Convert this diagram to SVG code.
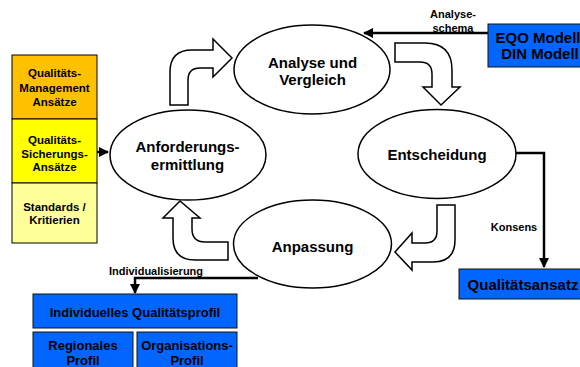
<svg xmlns="http://www.w3.org/2000/svg" width="580" height="367" viewBox="0 0 580 367">
<defs>
<style>
text{font-family:"Liberation Sans",Arial,sans-serif;font-weight:bold;fill:#000;text-anchor:middle}
.big{font-size:15px}
.mid{font-size:13px}
.sm{font-size:11.5px}
.lbl{font-size:11px}
.ell{fill:#fff;stroke:#000;stroke-width:1.5}
.blk{fill:#fff;stroke:#000;stroke-width:1.5;stroke-linejoin:miter}
.blue{fill:#0066ff;stroke:#111;stroke-width:1}
.stk{stroke:#000;stroke-width:1}
.con{fill:none;stroke:#000;stroke-width:2.5}
</style>
<marker id="ah" viewBox="0 0 10 10" refX="9" refY="5" markerWidth="4" markerHeight="4" orient="auto" markerUnits="strokeWidth">
<path d="M0,0 L10,5 L0,10 Z" fill="#000"/>
</marker>
</defs>
<rect width="580" height="367" fill="#fff"/>

<g id="connectors">
<path class="con" d="M488,33 L364,33" marker-end="url(#ah)"/>
<path class="con" d="M516,153 L544,153 L544,267" marker-end="url(#ah)"/>
<path class="con" d="M258,278 L135,278 L135,293" marker-end="url(#ah)"/>
<path class="con" d="M97,152 L108,152" marker-end="url(#ah)"/>
<text class="lbl" x="453" y="18">Analyse-</text>
<text class="lbl" x="453" y="32">schema</text>
<text class="lbl" x="514" y="231">Konsens</text>
<text class="lbl" x="156" y="275">Individualisierung</text>
</g>

<g id="cycle-arrows">
<path class="blk" d="M170,105 L170,72 Q170,50 192,50 L213,50 L213,39 L232,58 L213,77 L213,68 L200,68 Q188,68 188,80 L188,105 Z"/>
<path class="blk" d="M395,43 L425,43 Q452,43 452,70 L452,87 L460,87 L441,105 L423,87 L432,87 L432,74 Q432,62 420,62 L395,62 Z"/>
<path class="blk" d="M437,205 L455,205 L455,240 Q455,262 433,262 L412,262 L412,270 L395,252 L412,233 L412,243 L425,243 Q437,243 437,231 Z"/>
<path class="blk" d="M228,242 L205,242 Q192,242 192,229 L192,218 L200,218 L180,201 L163,218 L173,218 L173,238 Q173,260 195,260 L228,260 Z"/>
</g>

<g id="analyse">
<ellipse class="ell" cx="312" cy="69.5" rx="78" ry="44.5"/>
<text class="big" x="312.5" y="67.5">Analyse und</text>
<text class="big" x="312.5" y="85">Vergleich</text>
</g>

<g id="entscheidung">
<ellipse class="ell" cx="437" cy="154" rx="79" ry="44.5"/>
<text class="big" x="437" y="160">Entscheidung</text>
</g>

<g id="anpassung">
<ellipse class="ell" cx="312.5" cy="244" rx="79" ry="44"/>
<text class="big" x="312.5" y="252">Anpassung</text>
</g>

<g id="anforderung">
<ellipse class="ell" cx="188" cy="155" rx="78" ry="45"/>
<text class="big" x="187.5" y="152">Anforderungs-</text>
<text class="big" x="187.5" y="170">ermittlung</text>
</g>

<g id="stack-management">
<rect class="stk" x="12" y="55" width="85" height="64" fill="#ffc000"/>
<text class="sm" x="54.5" y="77">Qualitäts-</text>
<text class="sm" x="54.5" y="91.5">Management</text>
<text class="sm" x="54.5" y="106">Ansätze</text>
</g>
<g id="stack-sicherung">
<rect class="stk" x="12" y="119" width="85" height="64" fill="#ffff00"/>
<text class="sm" x="54.5" y="144">Qualitäts-</text>
<text class="sm" x="54.5" y="157.5">Sicherungs-</text>
<text class="sm" x="54.5" y="171">Ansätze</text>
</g>
<g id="stack-standards">
<rect class="stk" x="12" y="183" width="85" height="60" fill="#ffff99"/>
<text class="sm" x="54.5" y="211">Standards /</text>
<text class="sm" x="54.5" y="224">Kritierien</text>
</g>

<g id="eqo">
<rect class="blue" x="488" y="24" width="100" height="43"/>
<text class="big" x="538" y="43">EQO Modell</text>
<text class="big" x="540" y="58.5">DIN Modell</text>
</g>

<g id="qualitaetsansatz">
<rect class="blue" x="459" y="269" width="130" height="30"/>
<text class="big" x="523" y="289.5">Qualitätsansatz</text>
</g>

<g id="individuell">
<rect class="blue" x="33" y="294" width="204" height="34"/>
<text class="mid" x="135" y="316.5">Individuelles Qualitätsprofil</text>
</g>
<g id="regional">
<rect class="blue" x="33" y="332" width="100" height="40"/>
<text class="mid" x="83" y="350">Regionales</text>
<text class="mid" x="83" y="364.5">Profil</text>
</g>
<g id="organisation">
<rect class="blue" x="137" y="332" width="100" height="40"/>
<text class="mid" x="187" y="350">Organisations-</text>
<text class="mid" x="187" y="364.5">Profil</text>
</g>
</svg>
